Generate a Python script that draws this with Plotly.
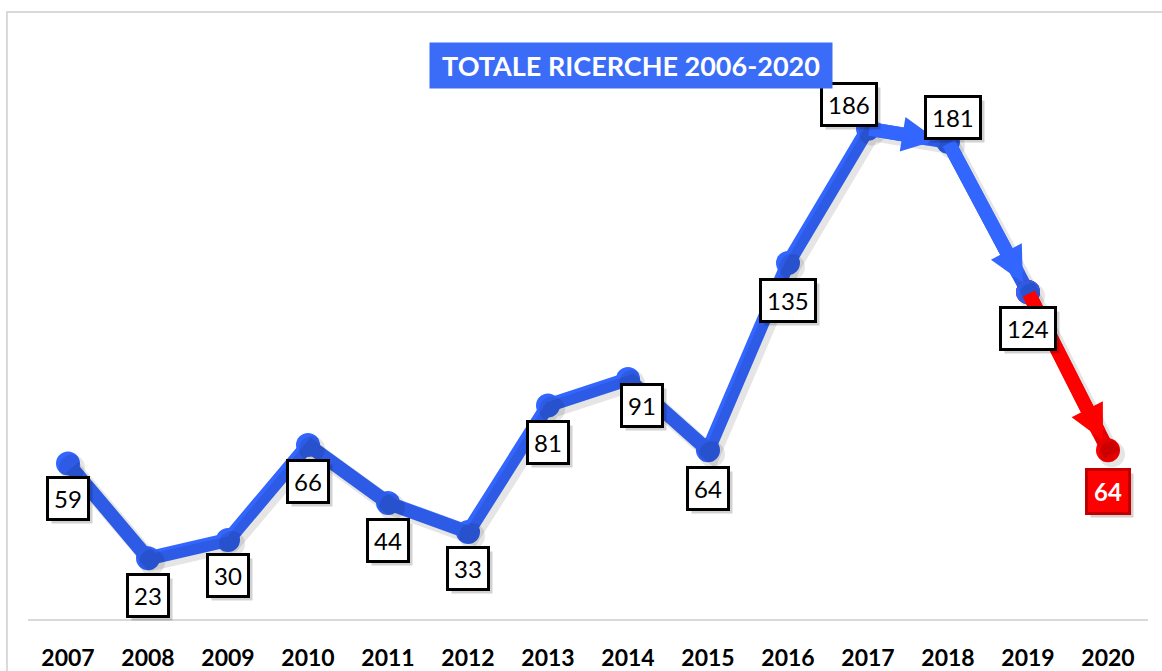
"""Totale ricerche 2006-2020: line chart with boxed value labels."""

import plotly.graph_objects as go

YEARS = ["2007", "2008", "2009", "2010", "2011", "2012", "2013",
         "2014", "2015", "2016", "2017", "2018", "2019", "2020"]
RICERCHE = [59, 23, 30, 66, 44, 33, 81, 91, 64, 135, 186, 181, 124, 64]
TITLE = "TOTALE RICERCHE 2006-2020"

BLUE = "#3366FF"
RED = "#FF0000"
FONT = "Lato, Arial, sans-serif"

# label offsets in pixels (dx, dy) relative to each point
LABEL_SHIFT = [(0, -35), (0, -37), (0, -36), (0, -36), (0, -37), (0, -36), (0, -37),
               (14, -26), (0, -38), (0, -37), (-19, 24), (5, 24), (0, -36), (0, -41)]

Y_RANGE = [0, 220]
X_RANGE = [-0.5, len(YEARS) - 0.5]

fig = go.Figure()

# soft shadow drawn on an offset copy of the axes
SH_DX = 4 / 80.0
SH_DY = 4 / (580 / 220)
shadow_kw = dict(xaxis="x2", yaxis="y2", hoverinfo="skip", showlegend=False)
fig.add_trace(go.Scatter(x=YEARS, y=RICERCHE, mode="lines+markers",
                         line=dict(color="rgba(0,0,0,0.10)", width=17),
                         marker=dict(size=26, color="rgba(0,0,0,0.10)"), **shadow_kw))

fig.add_trace(go.Scatter(x=YEARS[:-1], y=RICERCHE[:-1], mode="lines+markers",
                         line=dict(color=BLUE, width=14),
                         marker=dict(size=24, color=BLUE), showlegend=False))
fig.add_trace(go.Scatter(x=YEARS[-2:], y=RICERCHE[-2:], mode="lines+markers",
                         line=dict(color=RED, width=14),
                         marker=dict(size=24, color=RED), showlegend=False))
# keep the 2019 point blue on top of the red segment
fig.add_trace(go.Scatter(x=YEARS[-2:-1], y=RICERCHE[-2:-1], mode="markers",
                         marker=dict(size=24, color=BLUE), showlegend=False))

annotations = []

# arrow heads on the last three segments
for i, col in [(10, BLUE), (11, BLUE), (12, RED)]:
    annotations.append(dict(
        x=i + 1, y=RICERCHE[i + 1], ax=i, ay=RICERCHE[i],
        xref="x", yref="y", axref="x", ayref="y", text="",
        showarrow=True, arrowhead=2, arrowsize=0.5, arrowwidth=14,
        arrowcolor=col, standoff=11,
    ))

# value labels (shadow box + label box)
for i, (yr, v) in enumerate(zip(YEARS, RICERCHE)):
    dx, dy = LABEL_SHIFT[i]
    last = i == len(YEARS) - 1
    pad = 6 if last else 5
    common = dict(x=i, y=v, xref="x", yref="y", showarrow=False, borderpad=pad)
    annotations.append(dict(
        common, text="", width=14 * len(str(v)), height=29,
        xshift=dx + 4, yshift=dy - 4,
        bgcolor="rgba(0,0,0,0.18)", bordercolor="rgba(0,0,0,0)", borderwidth=3,
    ))
    if last:
        annotations.append(dict(
            common, text="<b>%d</b>" % v, xshift=dx, yshift=dy,
            font=dict(family=FONT, size=24, color="white"),
            bgcolor=RED, bordercolor="#C00000", borderwidth=3,
        ))
    else:
        annotations.append(dict(
            common, text=str(v), xshift=dx, yshift=dy,
            font=dict(family=FONT, size=24, color="black"),
            bgcolor="white", bordercolor="black", borderwidth=3,
        ))

# title box
annotations.append(dict(
    x=0.5384, y=0.955, xref="paper", yref="paper", showarrow=False,
    xanchor="center", yanchor="middle",
    text="<b>%s</b>" % TITLE, font=dict(family=FONT, size=27, color="white"),
    bgcolor="#3B6CF8", borderpad=6, width=390,
))

fig.update_layout(
    width=1162, height=671,
    margin=dict(l=28, r=14, t=39, b=52),
    paper_bgcolor="white", plot_bgcolor="white",
    annotations=annotations,
    shapes=[dict(type="rect", xref="paper", yref="paper",
                 x0=-0.0188, x1=1.02, y0=-0.1, y1=1.0466,
                 line=dict(color="#D9D9D9", width=2), layer="below")],
    xaxis=dict(type="category", categoryorder="array", categoryarray=YEARS,
               range=X_RANGE, showgrid=False, zeroline=False, automargin=False,
               showline=True, linecolor="#D9D9D9", linewidth=2,
               ticks="", ticklabelstandoff=17,
               tickfont=dict(family=FONT, size=23, color="black", weight="bold")),
    yaxis=dict(range=Y_RANGE, visible=False, showgrid=False, zeroline=False,
               automargin=False),
    xaxis2=dict(type="category", categoryorder="array", categoryarray=YEARS,
                overlaying="x", range=[X_RANGE[0] - SH_DX, X_RANGE[1] - SH_DX],
                visible=False),
    yaxis2=dict(overlaying="y", range=[Y_RANGE[0] + SH_DY, Y_RANGE[1] + SH_DY],
                visible=False),
)

fig.write_html("out.html", config={"displayModeBar": False},
               post_script="document.body.style.margin='0';")
